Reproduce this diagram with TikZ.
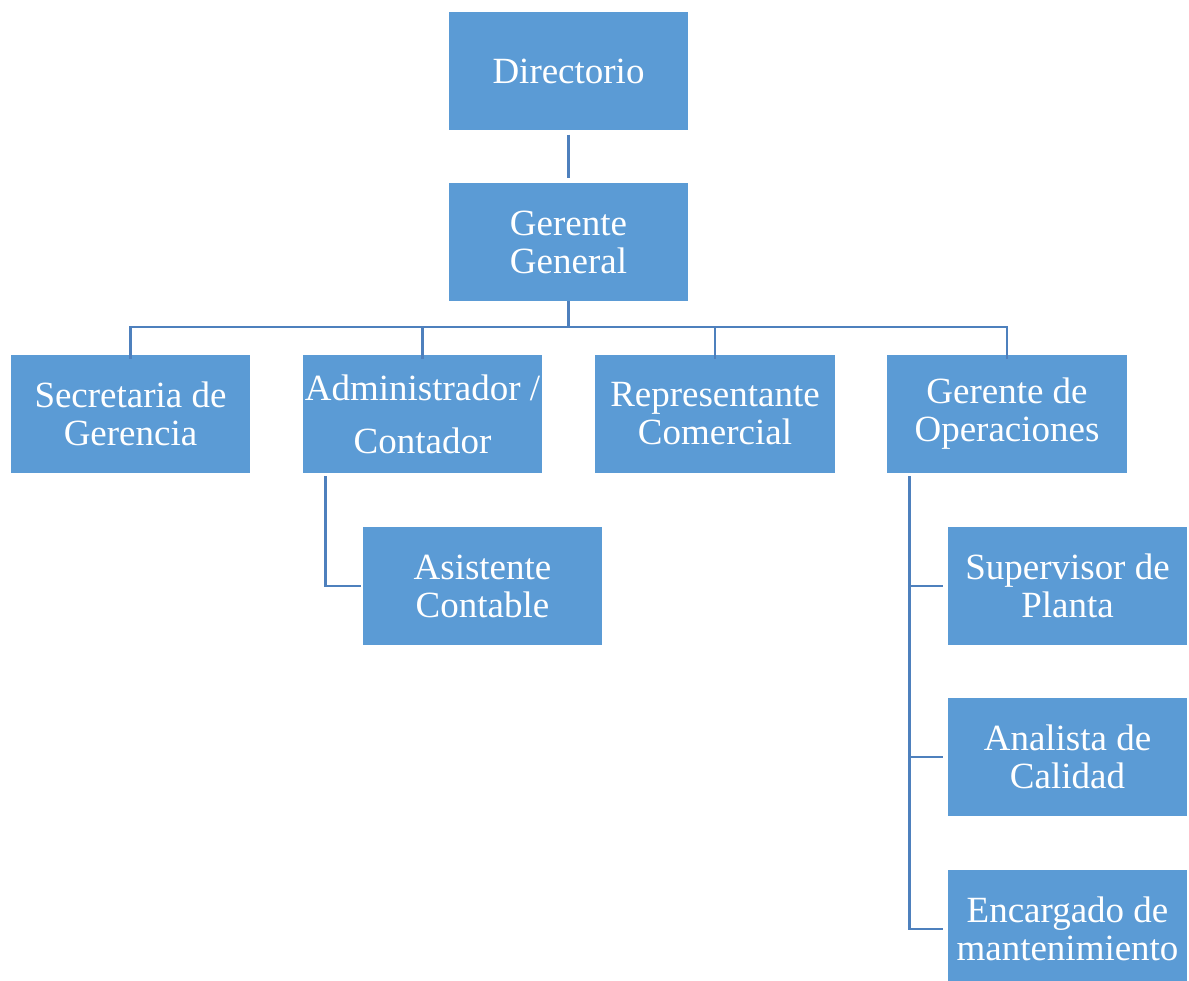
\documentclass[tikz,border=0pt]{standalone}
\usepackage{fontspec}
\setmainfont{Liberation Serif}
\usepackage{tikz}
\usetikzlibrary{calc}
\definecolor{boxblue}{HTML}{5B9BD5}
\definecolor{lineblue}{HTML}{4E80BD}

\begin{document}
\begin{tikzpicture}[x=0.025cm,y=-0.025cm,
  box/.style={fill=boxblue,text=white,align=center,inner sep=0pt,
              minimum width=5.975cm,minimum height=2.95cm,
              font=\fontsize{26.3}{27}\selectfont},
  link/.style={lineblue,line width=2.1pt}]
\useasboundingbox (0,0) rectangle (1189,980);

\node[box] (dir) at (568.5,71) {Directorio};
\node[box] (gg) at (568.5,242) {Gerente\\General};

\node[box] (sec) at (130.5,414) {Secretaria de\\Gerencia};
\node[box] (adm) at (422.5,414) {Administrador /\\[0.38cm]Contador};
\node[box] (rep) at (715,414) {Representante\\Comercial};
\node[box] (gop) at (1007,414) {Gerente de\\Operaciones};

\node[box] (asis) at (482.5,586) {Asistente\\Contable};
\node[box] (sup) at (1067.5,586) {Supervisor de\\Planta};
\node[box] (cal) at (1067.5,757) {Analista de\\Calidad};
\node[box] (man) at (1067.5,929) {Encargado de\\mantenimiento};

\draw[link,shorten <=3pt,shorten >=3pt] (dir) -- (gg);
\coordinate (bus) at (568.5,327);
\foreach \n in {sec,adm,rep,gop}
  \draw[link] (gg.south) -- (bus) -| ([yshift=-3pt]\n.north);

\draw[link] ($(adm.south west)+(23,3)$) |- ([xshift=-1pt]asis.west);
\foreach \n in {sup,cal,man}
  \draw[link] ($(gop.south west)+(22,3)$) |- ([xshift=-3pt]\n.west);
\end{tikzpicture}
\end{document}
